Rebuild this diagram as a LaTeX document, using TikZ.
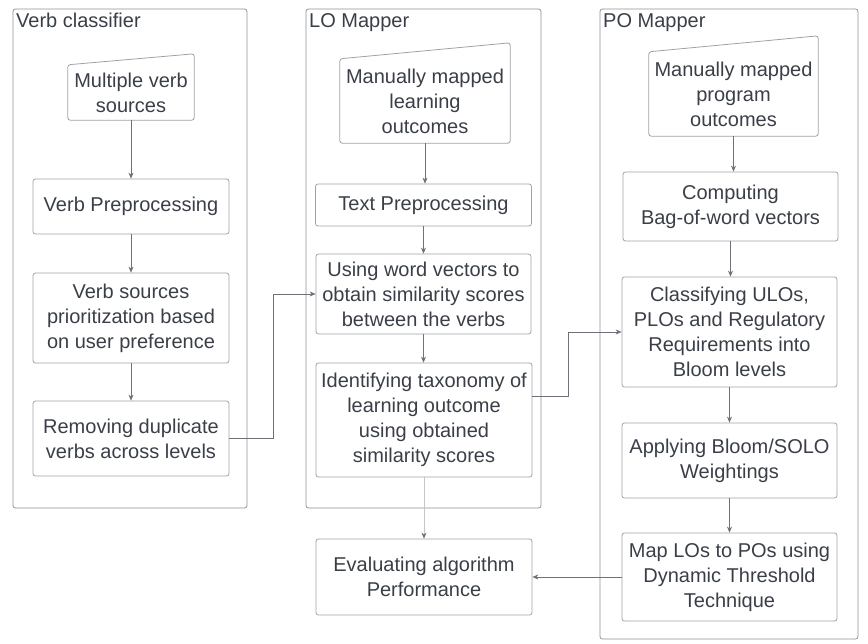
\documentclass[tikz,border=0pt]{standalone}
\usepackage{fontspec}
\setmainfont{Liberation Sans}
\usetikzlibrary{arrows.meta,calc}
\definecolor{txt}{HTML}{3A3F47}
\definecolor{bord}{HTML}{9EA1A6}
\definecolor{cont}{HTML}{8E9196}
\definecolor{conn}{HTML}{6E7278}
\definecolor{lightconn}{HTML}{C4C6C9}
\tikzset{
  every node/.style={text=txt,font=\fontsize{20}{25}\selectfont},
  box/.style={draw=bord,line width=0.8pt,rounded corners=2.5pt,inner sep=0pt,align=center},
  bodybox/.style={inner sep=0pt,align=center},
  container/.style={draw=cont,line width=0.8pt,rounded corners=2.5pt,inner sep=0pt},
  title/.style={anchor=base west,inner sep=0pt},
  link/.style={draw=conn,line width=0.6pt,-{Stealth[length=6pt,width=5pt]}},
  lightlink/.style={draw=lightconn,line width=0.6pt,-{Stealth[length=6pt,width=5pt,color=conn]}},
  trap/.style={draw=bord,line width=0.8pt,rounded corners=2.5pt}
}
\begin{document}
\begin{tikzpicture}[x=1pt,y=-1pt]
\useasboundingbox (0,0) rectangle (868,644);
% containers
\node[container,minimum width=234pt,minimum height=499pt] (vc) at (130,258.5) {};
\node[container,minimum width=235pt,minimum height=499pt] (lo) at (423.5,258.5) {};
\node[container,minimum width=258pt,minimum height=630pt] (po) at (729,324) {};
\node[title] (vct) at (16,28) {Verb classifier};
\node[title] (lot) at (309,28) {LO Mapper};
\node[title] (pot) at (603,28) {PO Mapper};
% manual input nodes
\node[bodybox,minimum width=126pt,minimum height=55pt] (mvs) at (131,92.5) {Multiple verb\\sources};
\draw[trap] (mvs.south west) -- (mvs.south east) -- ([yshift=11pt]mvs.north east) -- (mvs.north west) -- cycle;
\node[bodybox,minimum width=170pt,minimum height=84pt] (mlo) at (425,101) {Manually mapped\\learning\\outcomes};
\draw[trap] (mlo.south west) -- (mlo.south east) -- ([yshift=16pt]mlo.north east) -- (mlo.north west) -- cycle;
\node[bodybox,minimum width=169pt,minimum height=84pt] (mpo) at (733.5,94) {Manually mapped\\program\\outcomes};
\draw[trap] (mpo.south west) -- (mpo.south east) -- ([yshift=16pt]mpo.north east) -- (mpo.north west) -- cycle;
% verb classifier
\node[box,minimum width=196pt,minimum height=55pt] (vp) at (131,206.5) {Verb Preprocessing};
\node[box,minimum width=196pt,minimum height=90pt] (vsp) at (131,318) {Verb sources\\prioritization based\\on user preference};
\node[box,minimum width=196pt,minimum height=75pt] (rd) at (131,438.5) {Removing duplicate\\verbs across levels};
% LO mapper
\node[box,minimum width=216pt,minimum height=42pt] (tp) at (423.5,205) {Text Preprocessing};
\node[box,minimum width=215pt,minimum height=80pt] (uwv) at (423.5,294) {Using word vectors to\\obtain similarity scores\\between the verbs};
\node[box,minimum width=216pt,minimum height=114pt] (itl) at (424,420) {Identifying taxonomy of\\learning outcome\\using obtained\\similarity scores};
\node[box,minimum width=216pt,minimum height=76pt] (ev) at (424,577) {Evaluating algorithm\\Performance};
% PO mapper
\node[box,minimum width=215pt,minimum height=69pt] (comp) at (730.5,206.5) {Computing\\Bag-of-word vectors};
\node[box,minimum width=215pt,minimum height=110pt] (cls) at (729.5,332) {Classifying ULOs,\\PLOs and Regulatory\\Requirements into\\Bloom levels};
\node[box,minimum width=215pt,minimum height=75pt] (app) at (729.5,460.5) {Applying Bloom/SOLO\\Weightings};
\node[box,minimum width=215pt,minimum height=88pt] (map) at (729.5,577) {Map LOs to POs using\\Dynamic Threshold\\Technique};
% connectors
\draw[link] (mvs.south) -- (vp.north);
\draw[link] (vp.south) -- (vsp.north);
\draw[link] (vsp.south) -- (rd.north);
\draw[link] (rd.east) -- ++(44,0) |- (uwv.west);
\draw[link] (mlo.south) -- (mlo.south |- tp.north);
\draw[link] (tp.south) -- (tp.south |- uwv.north);
\draw[link] (uwv.south) -- (uwv.south |- itl.north);
\draw[lightlink] (itl.south) -- (ev.north);
\draw[link] ([yshift=-34pt]itl.north east) -- ++(36,0) |- (cls.west);
\draw[link] (mpo.south) -- (mpo.south |- comp.north);
\draw[link] (comp.south) -- (comp.south |- cls.north);
\draw[link] (cls.south) -- (app.north);
\draw[link] (app.south) -- (map.north);
\draw[link] (map.west) -- (ev.east);
\end{tikzpicture}
\end{document}
